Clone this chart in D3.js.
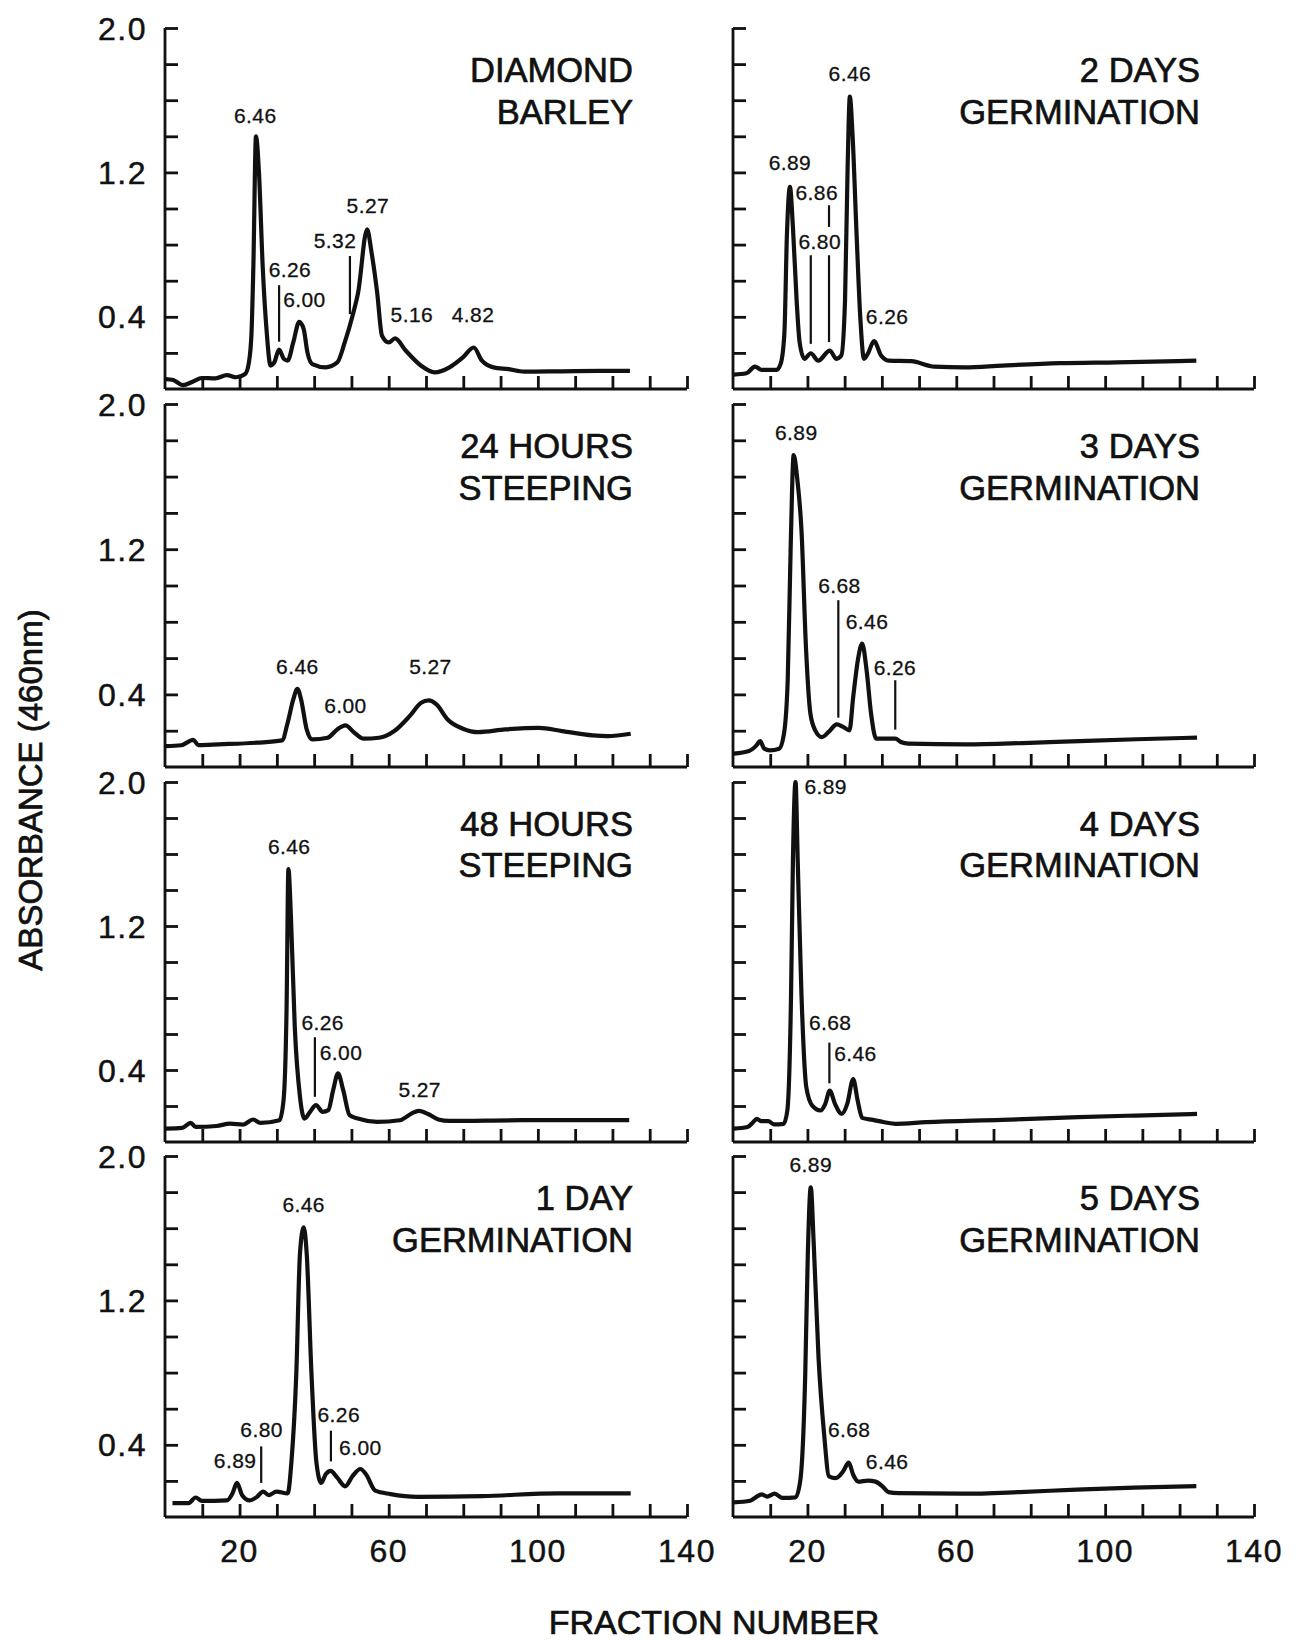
<!DOCTYPE html>
<html>
<head>
<meta charset="utf-8">
<script src="https://cdn.jsdelivr.net/npm/d3@7"></script>
<style>
  body { margin: 0; background: #fff; }
  text { font-family: "Liberation Sans", Arial, Helvetica, sans-serif; fill: #111; stroke: #111; stroke-width: 0.45; }
</style>
</head>
<body>
<div id="viz_container"></div>
<script>
// ---- data (fraction number, absorbance at 460nm) ----
const xTicks = [10, 20, 30, 40, 50, 60, 70, 80, 90, 100, 110, 120, 130, 140];
const xTickLabels = [20, 60, 100, 140];
const yTicks = [0.2, 0.4, 0.6, 0.8, 1.0, 1.2, 1.4, 1.6, 1.8, 2.0];
const yTickLabels = [2.0, 1.2, 0.4];

const titles = [
  ["DIAMOND", "BARLEY"],
  ["24 HOURS", "STEEPING"],
  ["48 HOURS", "STEEPING"],
  ["1 DAY", "GERMINATION"],
  ["2 DAYS", "GERMINATION"],
  ["3 DAYS", "GERMINATION"],
  ["4 DAYS", "GERMINATION"],
  ["5 DAYS", "GERMINATION"]
];

const diamondBarley = [
  [0.2, 0.055], [2.2, 0.05], [4.8, 0.022], [7.4, 0.04], [9.9, 0.061], [13.5, 0.059],
  [16.6, 0.077], [19.1, 0.065], [21.5, 0.083], [22.5, 0.147], [23.2, 0.31], [23.7, 0.68],
  [24.4, 1.40], [25.2, 1.20], [26.2, 0.68], [27.3, 0.31], [28.3, 0.13], [29.3, 0.147],
  [30.6, 0.218], [31.9, 0.166], [32.9, 0.157], [34.4, 0.258], [36.0, 0.372], [37.2, 0.332],
  [38.2, 0.203], [39.5, 0.138], [43.1, 0.12], [46.2, 0.147], [48.2, 0.258], [50.3, 0.406],
  [51.8, 0.535], [54.2, 0.885], [55.4, 0.756], [56.9, 0.535], [58.2, 0.295], [60.0, 0.258],
  [61.7, 0.28], [64.6, 0.212], [68.7, 0.129], [72.3, 0.092], [76.3, 0.12], [79.9, 0.175],
  [82.8, 0.23], [85.0, 0.157], [88.1, 0.12], [92.2, 0.11], [96.3, 0.096], [106.5, 0.098],
  [116.7, 0.10], [124.7, 0.10]
];
const steep24 = [
  [0.2, 0.115], [4.3, 0.12], [7.6, 0.149], [8.9, 0.121], [14.5, 0.125], [24.7, 0.134],
  [31.4, 0.147], [32.9, 0.244], [34.4, 0.372], [35.5, 0.431], [36.5, 0.372], [38.0, 0.207],
  [39.5, 0.152], [43.6, 0.161], [46.2, 0.207], [48.4, 0.229], [50.8, 0.189], [53.3, 0.156],
  [57.4, 0.161], [61.5, 0.198], [65.6, 0.28], [68.7, 0.354], [70.7, 0.367], [72.8, 0.345],
  [75.8, 0.262], [79.9, 0.211], [84.0, 0.192], [91.2, 0.207], [100.3, 0.216], [106.5, 0.198],
  [114.7, 0.174], [118.7, 0.17], [124.9, 0.183]
];
const steep48 = [
  [0.2, 0.074], [4.6, 0.078], [6.9, 0.106], [8.2, 0.084], [13.8, 0.089], [17.4, 0.102],
  [21.0, 0.097], [23.6, 0.125], [25.6, 0.106], [30.7, 0.121], [31.8, 0.233], [32.6, 0.735],
  [33.1, 1.516], [33.8, 1.237], [34.8, 0.642], [36.2, 0.251], [37.4, 0.13], [38.9, 0.167],
  [40.5, 0.205], [42.3, 0.167], [43.8, 0.177], [45.1, 0.288], [46.4, 0.381], [47.8, 0.288],
  [49.5, 0.149], [51.7, 0.13], [56.9, 0.112], [63.0, 0.121], [66.1, 0.158], [68.1, 0.173],
  [70.7, 0.154], [73.3, 0.125], [76.3, 0.117], [95.8, 0.121], [124.5, 0.121]
];
const germ1 = [
  [2.0, 0.077], [6.3, 0.077], [8.2, 0.108], [9.9, 0.089], [16.6, 0.092], [18.1, 0.131],
  [19.3, 0.189], [20.7, 0.121], [22.7, 0.092], [24.7, 0.112], [26.3, 0.141], [27.8, 0.121],
  [29.9, 0.141], [32.9, 0.131], [33.9, 0.304], [35.2, 0.786], [36.2, 1.46], [37.2, 1.605],
  [38.0, 1.46], [39.3, 0.786], [40.6, 0.304], [41.9, 0.189], [43.1, 0.237], [44.4, 0.256],
  [46.2, 0.218], [48.3, 0.17], [50.3, 0.227], [52.4, 0.266], [53.9, 0.237], [56.4, 0.146],
  [60.5, 0.127], [67.7, 0.112], [85.1, 0.116], [105.5, 0.131], [124.9, 0.131]
];
const germ2 = [
  [0.2, 0.08], [3.6, 0.087], [5.9, 0.124], [7.7, 0.106], [11.7, 0.106], [12.8, 0.139],
  [13.8, 0.306], [14.5, 0.861], [15.3, 1.12], [16.1, 0.898], [17.1, 0.49], [17.9, 0.259],
  [19.2, 0.167], [20.9, 0.198], [22.9, 0.157], [26.0, 0.213], [27.8, 0.167], [29.1, 0.185],
  [30.1, 0.49], [30.8, 1.23], [31.4, 1.62], [32.1, 1.417], [33.2, 0.861], [34.2, 0.398],
  [35.2, 0.167], [36.2, 0.194], [37.9, 0.265], [39.8, 0.185], [41.8, 0.157], [47.9, 0.154],
  [54.1, 0.124], [62.2, 0.12], [72.4, 0.13], [87.8, 0.143], [103.1, 0.148], [124.5, 0.157]
];
const germ3 = [
  [0.2, 0.074], [4.3, 0.088], [6.3, 0.119], [7.3, 0.143], [8.4, 0.101], [9.9, 0.092],
  [12.4, 0.101], [13.7, 0.184], [14.7, 0.478], [15.5, 1.213], [16.3, 1.719], [17.3, 1.581],
  [18.4, 1.305], [19.6, 0.662], [20.8, 0.294], [22.1, 0.202], [23.9, 0.165], [25.7, 0.193],
  [27.9, 0.235], [29.6, 0.221], [31.3, 0.202], [32.3, 0.386], [33.7, 0.607], [34.7, 0.68],
  [35.9, 0.533], [37.1, 0.294], [38.5, 0.156], [40.0, 0.156], [43.6, 0.156], [45.1, 0.138],
  [47.1, 0.129], [62.4, 0.125], [77.8, 0.132], [93.1, 0.143], [108.4, 0.153], [124.7, 0.162]
];
const germ4 = [
  [0.2, 0.074], [3.9, 0.083], [5.4, 0.11], [6.4, 0.129], [7.5, 0.116], [9.5, 0.116],
  [11.0, 0.098], [13.6, 0.101], [14.6, 0.175], [15.6, 0.819], [16.1, 1.555], [16.8, 2.0],
  [17.4, 1.555], [18.4, 0.819], [19.7, 0.304], [21.3, 0.202], [23.5, 0.175], [24.8, 0.212],
  [26.0, 0.285], [27.4, 0.212], [29.2, 0.156], [30.7, 0.212], [32.3, 0.35], [33.5, 0.23],
  [34.7, 0.134], [37.6, 0.123], [40.7, 0.11], [43.7, 0.101], [51.9, 0.11], [72.3, 0.123],
  [92.8, 0.138], [108.1, 0.147], [124.7, 0.156]
];
const germ5 = [
  [0.2, 0.081], [4.6, 0.09], [6.1, 0.109], [7.7, 0.125], [9.2, 0.113], [11.2, 0.129],
  [13.3, 0.106], [16.8, 0.109], [18.1, 0.205], [19.4, 0.781], [20.1, 1.453], [20.9, 1.827],
  [21.7, 1.511], [23.0, 0.877], [24.5, 0.455], [25.8, 0.225], [27.6, 0.215], [29.6, 0.253],
  [31.1, 0.301], [32.3, 0.234], [33.7, 0.196], [36.2, 0.202], [38.3, 0.196], [40.3, 0.167],
  [41.8, 0.138], [44.4, 0.132], [61.7, 0.129], [77.0, 0.138], [92.3, 0.152], [107.7, 0.163],
  [124.5, 0.171]
];

// pI labels: [text, fraction, absorbance, anchor]
const diamondBarleyPI = [["6.46", 24.2, 1.475, "middle"], ["6.26", 27.8, 0.618, "start"],
  ["6.00", 31.7, 0.452, "start"], ["5.32", 51.3, 0.783, "end"], ["5.27", 54.4, 0.977, "middle"],
  ["5.16", 60.5, 0.369, "start"], ["4.82", 82.6, 0.369, "middle"]];
const steep24PI = [["6.46", 35.5, 0.51, "middle"], ["6.00", 48.4, 0.299, "middle"], ["5.27", 71.2, 0.51, "middle"]];
const steep48PI = [["6.46", 33.3, 1.6, "middle"], ["6.26", 36.6, 0.623, "start"],
  ["6.00", 41.5, 0.456, "start"], ["5.27", 68.3, 0.251, "middle"]];
const germ1PI = [["6.46", 37.2, 1.692, "middle"], ["6.89", 24.5, 0.27, "end"], ["6.80", 25.9, 0.443, "middle"],
  ["6.26", 40.9, 0.526, "start"], ["6.00", 46.7, 0.343, "start"]];
const germ2PI = [["6.89", 15.3, 1.213, "middle"], ["6.86", 16.8, 1.046, "start"], ["6.80", 17.6, 0.778, "start"],
  ["6.46", 31.4, 1.704, "middle"], ["6.26", 35.7, 0.361, "start"]];
const germ3PI = [["6.89", 17.0, 1.80, "middle"], ["6.68", 28.6, 0.96, "middle"], ["6.46", 30.3, 0.763, "start"],
  ["6.26", 37.8, 0.509, "start"]];
const germ4PI = [["6.89", 19.2, 1.932, "start"], ["6.68", 20.4, 0.62, "start"], ["6.46", 27.2, 0.451, "start"]];
const germ5PI = [["6.89", 20.9, 1.914, "middle"], ["6.68", 25.5, 0.445, "start"], ["6.46", 35.7, 0.267, "start"]];

// marker lines: [fraction, absorbance top, absorbance bottom]
const diamondBarleyMarks = [[30.6, 0.575, 0.262], [49.6, 0.737, 0.415]];
const steep24Marks = [];
const steep48Marks = [[40.2, 0.582, 0.251]];
const germ1Marks = [[25.8, 0.391, 0.189], [44.5, 0.478, 0.308]];
const germ2Marks = [[20.9, 0.741, 0.25], [25.8, 1.018, 0.898], [25.8, 0.741, 0.26]];
const germ3Marks = [[28.3, 0.919, 0.272], [43.6, 0.478, 0.206]];
const germ4Marks = [[25.9, 0.552, 0.326]];
const germ5Marks = [];

const series = [diamondBarley, steep24, steep48, germ1, germ2, germ3, germ4, germ5];
const pIs = [diamondBarleyPI, steep24PI, steep48PI, germ1PI, germ2PI, germ3PI, germ4PI, germ5PI];
const marks = [diamondBarleyMarks, steep24Marks, steep48Marks, germ1Marks, germ2Marks, germ3Marks, germ4Marks, germ5Marks];

// ---- layout ----
const width = 1295;
const height = 1643;
const colX = [[165, 687], [733, 1254]];
const rowY = [[28, 389], [404, 767], [782, 1142], [1156, 1517]];

const svg = d3
  .select("#viz_container")
  .append("svg")
  .attr("width", width)
  .attr("height", height)
  .attr("viewBox", `0 0 ${width} ${height}`);

const curve = d3.line().curve(d3.curveMonotoneX);

series.forEach((data, i) => {
  const col = Math.floor(i / 4);
  const row = i % 4;
  const x = d3.scaleLinear().domain([0, 140]).range(colX[col]);
  const y = d3.scaleLinear().domain([0, 2.0]).range([rowY[row][1], rowY[row][0]]);
  const g = svg.append("g");

  // y axis with inward ticks
  const yAxis = g.append("g")
    .attr("transform", `translate(${colX[col][0]},0)`)
    .call(d3.axisRight(y).tickValues(yTicks).tickSize(13).tickFormat(""));
  // x axis with upward ticks
  const xAxis = g.append("g")
    .attr("transform", `translate(0,${rowY[row][1]})`)
    .call(d3.axisTop(x).tickValues(xTicks).tickSize(13).tickFormat(""));
  [yAxis, xAxis].forEach((a) => {
    a.selectAll("path").attr("stroke", "#111").attr("stroke-width", 2.8);
    a.selectAll("line").attr("stroke", "#111").attr("stroke-width", 2.8);
  });
  // plain domain lines meeting at the corner
  yAxis.select("path").attr("d", `M0,${y(2.0)}V${y(0)}`);
  xAxis.select("path").attr("d", `M${x(0)},0H${x(140)}`);

  if (col === 0) {
    g.selectAll(".ylab")
      .data(yTickLabels)
      .enter()
      .append("text")
      .attr("x", colX[col][0] - 18)
      .attr("y", (d) => y(d))
      .attr("dy", "0.36em")
      .attr("text-anchor", "end")
      .attr("font-size", 32)
      .attr("letter-spacing", 1.5)
      .text((d) => d.toFixed(1));
  }
  if (row === 3) {
    g.selectAll(".xlab")
      .data(xTickLabels)
      .enter()
      .append("text")
      .attr("x", (d) => x(d))
      .attr("y", rowY[row][1] + 45)
      .attr("text-anchor", "middle")
      .attr("font-size", 32)
      .attr("letter-spacing", 1.5)
      .text((d) => d);
  }

  // curve
  g.append("path")
    .datum(data)
    .attr("fill", "none")
    .attr("stroke", "#111")
    .attr("stroke-width", 4.2)
    .attr("stroke-linejoin", "round")
    .attr("d", curve.x((d) => x(d[0])).y((d) => y(d[1])));

  // marker lines
  g.selectAll(".mark")
    .data(marks[i])
    .enter()
    .append("line")
    .attr("x1", (d) => x(d[0]))
    .attr("x2", (d) => x(d[0]))
    .attr("y1", (d) => y(d[1]))
    .attr("y2", (d) => y(d[2]))
    .attr("stroke", "#111")
    .attr("stroke-width", 2.2);

  // pI labels
  g.selectAll(".pi")
    .data(pIs[i])
    .enter()
    .append("text")
    .attr("x", (d) => x(d[1]))
    .attr("y", (d) => y(d[2]))
    .attr("text-anchor", (d) => d[3])
    .attr("font-size", 21)
    .attr("letter-spacing", 0.4)
    .style("stroke-width", 0.3)
    .text((d) => d[0]);

  // panel title
  g.selectAll(".title")
    .data(titles[i])
    .enter()
    .append("text")
    .attr("x", x(125.5))
    .attr("y", (d, k) => y(k === 0 ? 1.70 : 1.47))
    .attr("text-anchor", "end")
    .attr("font-size", 34.5)
    .style("stroke-width", 0.7)
    .text((d) => d);
});

// axis titles
svg.append("text")
  .attr("transform", "translate(42,790) rotate(-90)")
  .attr("text-anchor", "middle")
  .attr("font-size", 33)
  .style("stroke-width", 0.7)
  .text("ABSORBANCE (460nm)");

svg.append("text")
  .attr("x", 714)
  .attr("y", 1634)
  .attr("text-anchor", "middle")
  .attr("font-size", 34)
  .style("stroke-width", 0.7)
  .text("FRACTION NUMBER");
</script>
</body>
</html>
